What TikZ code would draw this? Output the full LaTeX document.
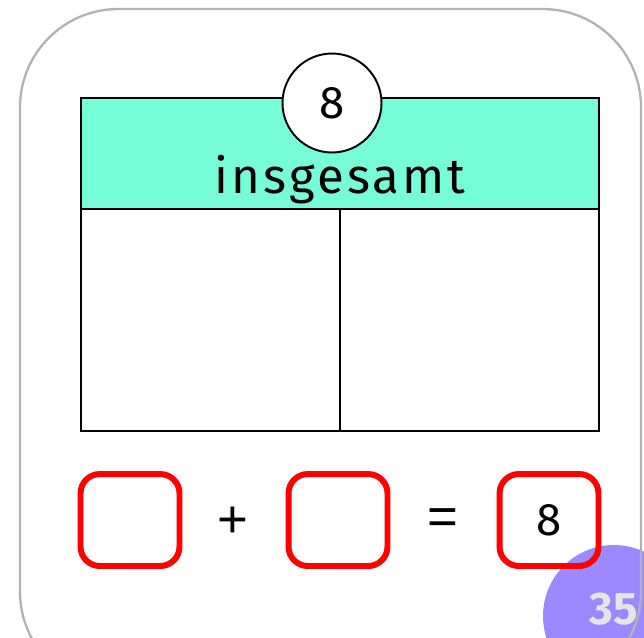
\documentclass[tikz,border=0pt]{standalone}
\usepackage{fontspec}
\setmainfont{Fira Sans}
\newfontfamily\signfont{Liberation Sans}
\definecolor{tablehead}{RGB}{119,252,216}
\definecolor{pagedot}{RGB}{156,137,255}
\definecolor{framegray}{RGB}{178,178,178}
\definecolor{boxred}{RGB}{255,0,0}
\tikzset{
  answerbox/.style={draw=boxred, line width=3.4pt, rounded corners=11pt,
    minimum width=1.98cm, minimum height=1.84cm, font=\fontsize{26}{28}\selectfont},
  signlabel/.style={font=\signfont\fontsize{30}{32}\selectfont},
  tableline/.style={line width=1.1pt},
}
\begin{document}
\begin{tikzpicture}[x=0.02cm, y=-0.02cm]
  \useasboundingbox (0,0) rectangle (644,637);
  \begin{scope}
    \clip (0,0) rectangle (644,637);
    \fill[pagedot] (614,616) circle (71);
    \draw[framegray, line width=1.3pt, rounded corners=56pt] (20,9) rectangle (641,690);
  \end{scope}
  \node[text=white!90!black, font=\bfseries\fontsize{26}{28}\selectfont, anchor=east, inner sep=1pt] (page) at (640,609) {35};
  % table
  \fill[tablehead] (81,98) rectangle (599,209);
  \draw[tableline] (81,98) rectangle (599,431);
  \draw[tableline] (81,209) -- (599,209);
  \coordinate (midtop) at (340,209);
  \coordinate (midbot) at (340,431);
  \draw[tableline] (midtop) -- (midbot);
  \node[draw, tableline, fill=white, circle, minimum size=1.98cm, font=\fontsize{26}{28}\selectfont] (total) at (332,103) {8};
  \node[font=\fontsize{28}{30}\selectfont\addfontfeature{LetterSpace=6}] (head) at (340,180) {insgesamt};
  % equation
  \node[answerbox] (first) at (130,520) {};
  \node[signlabel] (plus) at (233,522) {+};
  \node[answerbox] (second) at (338,520) {};
  \node[signlabel] (equals) at (443,522) {=};
  \node[answerbox] (sum) at (549,520) {8};
\end{tikzpicture}
\end{document}
